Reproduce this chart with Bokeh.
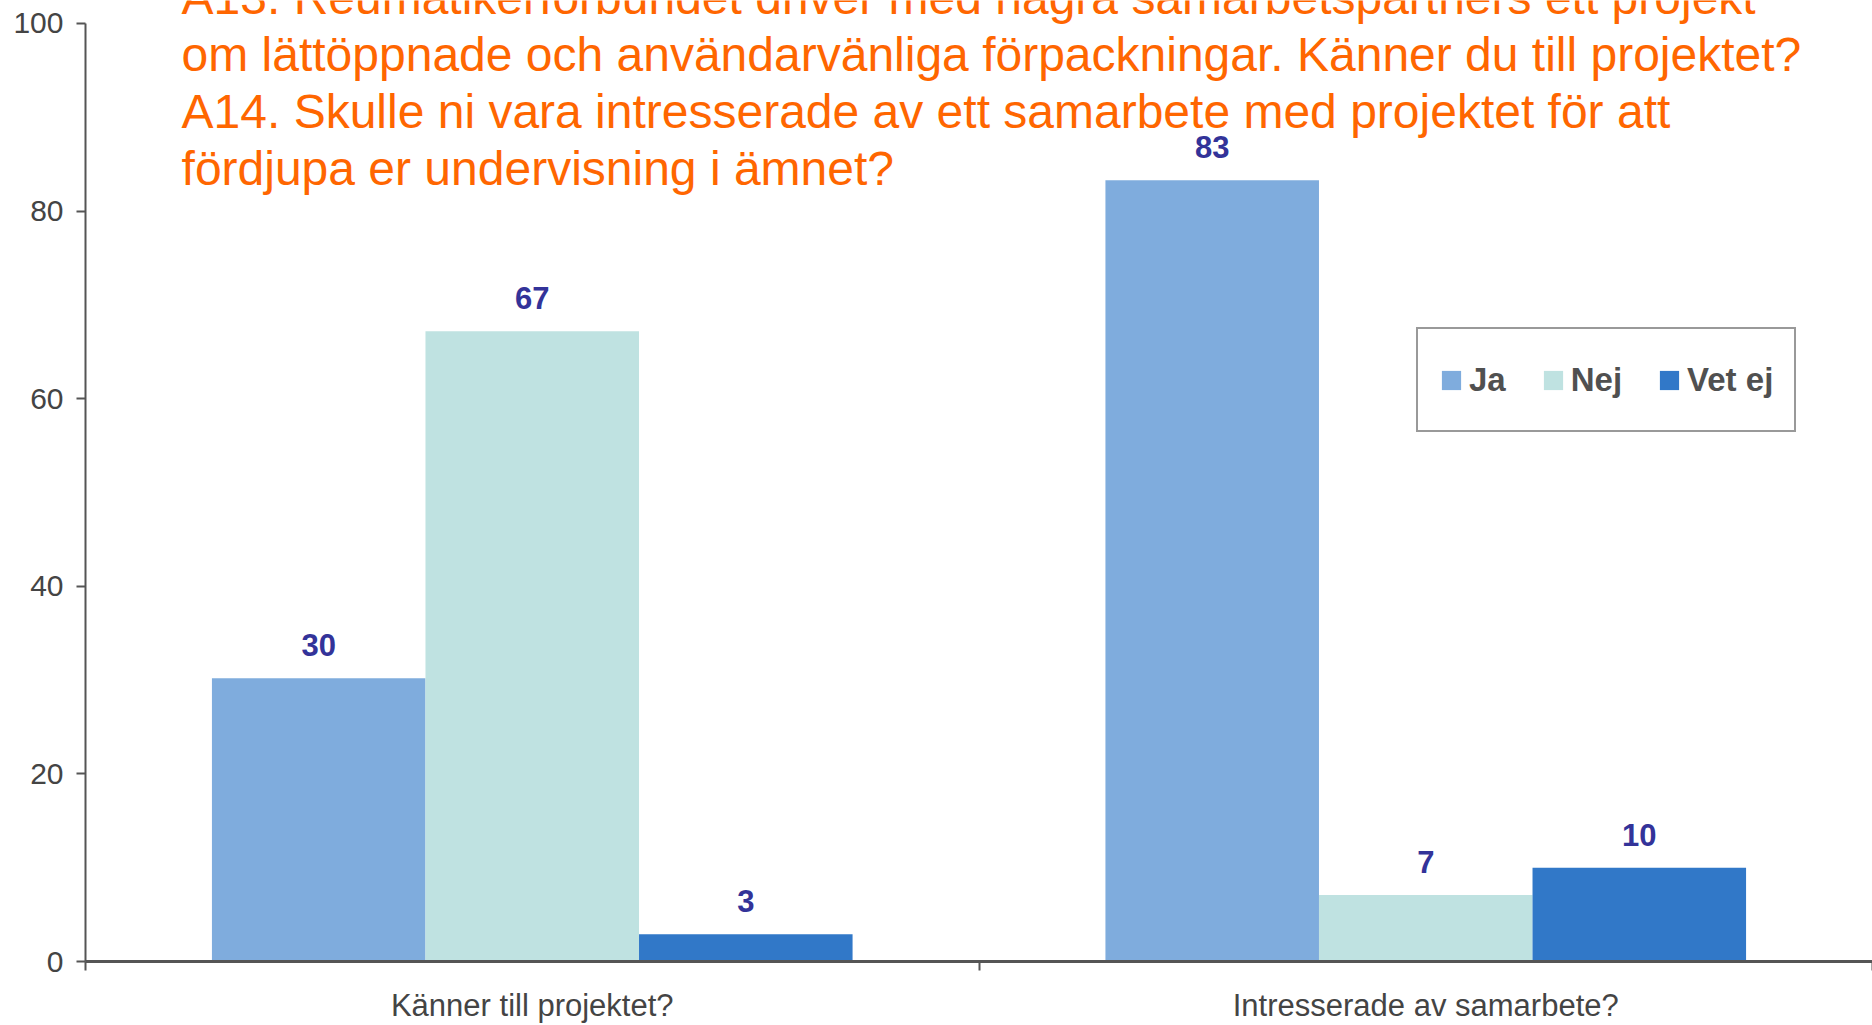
from bokeh.plotting import figure
from bokeh.models import Range1d, FixedTicker, Label, Legend, LegendItem, ColumnDataSource
from bokeh.core.properties import value
from bokeh.embed import file_html
from bokeh.resources import INLINE

# ---- data ----
categories = ["Känner till projektet?", "Intresserade av samarbete?"]
series = ["Ja", "Nej", "Vet ej"]
ja = [30.2, 83.3]
nej = [67.2, 7.1]
vet_ej = [2.9, 10.0]
y_ticks = [0, 20, 40, 60, 80, 100]
title_lines = [
    "A13. Reumatikerförbundet driver med några samarbetspartners ett projekt",
    "om lättöppnade och användarvänliga förpackningar. Känner du till projektet?",
    "A14. Skulle ni vara intresserade av ett samarbete med projektet för att",
    "fördjupa er undervisning i ämnet?",
]

colors = ["#7FACDD", "#BFE2E1", "#3178C8"]
FONT = "Liberation Sans"

# frame runs to the top of the canvas so the (partly cut) first title line shows;
# the y axis itself is bounded to 0..100
p = figure(width=1872, height=1025, title=None, x_range=Range1d(0, len(categories)),
           y_range=Range1d(0, 102.45), output_backend="svg", toolbar_location=None)
p.min_border_left = 85
p.min_border_right = 0
p.min_border_top = 0
p.min_border_bottom = 64
p.outline_line_color = None
p.xgrid.grid_line_color = None
p.ygrid.grid_line_color = None
p.background_fill_color = "white"

# x axis: category labels at centres, ticks at category boundaries
p.xaxis.ticker = FixedTicker(ticks=[i + 0.5 for i in range(len(categories))],
                             minor_ticks=list(range(len(categories) + 1)))
p.xaxis.major_label_overrides = {i + 0.5: c for i, c in enumerate(categories)}
p.xaxis.major_label_text_font = FONT
p.xaxis.major_label_text_font_size = "31px"
p.xaxis.major_label_text_color = "#444444"
p.xaxis.major_label_standoff = 17
p.xaxis.major_tick_line_color = None
p.xaxis.major_tick_in = 0
p.xaxis.major_tick_out = 0
p.xaxis.minor_tick_in = 0
p.xaxis.minor_tick_out = 9
p.xaxis.minor_tick_line_color = "#555555"
p.xaxis.minor_tick_line_width = 2
p.xaxis.axis_line_color = "#555555"
p.xaxis.axis_line_width = 3

p.yaxis.ticker = FixedTicker(ticks=y_ticks, minor_ticks=[])
p.yaxis.bounds = (0, 100)
p.yaxis.major_tick_in = 0
p.yaxis.major_tick_out = 9
p.yaxis.major_tick_line_color = "#555555"
p.yaxis.major_tick_line_width = 2
p.yaxis.axis_line_color = "#555555"
p.yaxis.axis_line_width = 2
p.yaxis.major_label_text_font = FONT
p.yaxis.major_label_text_font_size = "30px"
p.yaxis.major_label_text_color = "#444444"
p.yaxis.major_label_standoff = 13

bw = 0.239
offsets = [-bw, 0.0, bw]
items = []
for name, vals, col, off in zip(series, [ja, nej, vet_ej], colors, offsets):
    src = ColumnDataSource(dict(
        x=[i + 0.5 + off for i in range(len(categories))],
        top=vals,
        lab=[f"{v:.0f}" for v in vals],
    ))
    r = p.vbar(x="x", top="top", bottom=0, width=bw, source=src,
               fill_color=col, line_color=None)
    p.text(x="x", y="top", text="lab", source=src, text_align="center",
           text_baseline="middle", y_offset=-33, text_font=value(FONT),
           text_font_style="bold", text_font_size="31px", text_color="#333399")
    items.append(LegendItem(label=name, renderers=[r]))

legend = Legend(items=items, orientation="horizontal", location=(1331, 529))
legend.border_line_color = "#333333"
legend.border_line_width = 2
legend.background_fill_color = "white"
legend.background_fill_alpha = 1
legend.padding = 21
legend.margin = 0
legend.spacing = 35
legend.glyph_width = 24
legend.glyph_height = 24
legend.label_standoff = 6
legend.label_height = 59
legend.label_text_font = FONT
legend.label_text_font_style = "bold"
legend.label_text_font_size = "33px"
legend.label_text_color = "#505050"
p.add_layout(legend, "center")

# title lines (drawn inside the plot area, as in the original slide)
title_centres = [102.8, 96.7, 90.6, 84.5]
for line, yc in zip(title_lines, title_centres):
    p.add_layout(Label(x=0.1075, y=yc, text=line, text_font=FONT,
                       text_font_size="48px", text_color="#FF6600",
                       text_baseline="middle", text_align="left"))

open("out.html", "w").write(file_html(p, INLINE))
